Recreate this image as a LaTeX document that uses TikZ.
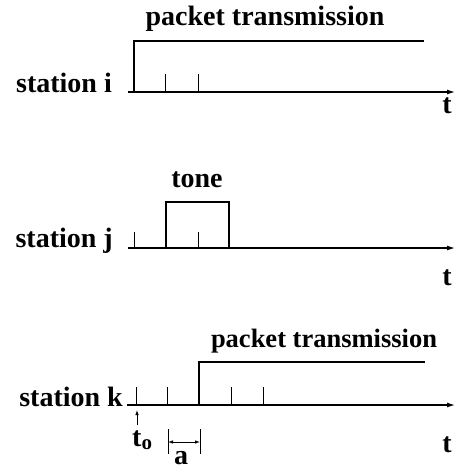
\documentclass[tikz,border=0pt]{standalone}
\usepackage{fontspec}
\setmainfont{Liberation Serif}
\usetikzlibrary{arrows.meta}
\begin{document}
\begin{tikzpicture}[x=1pt,y=-1pt,
  lbl/.style={font=\fontsize{28}{30}\selectfont\bfseries, inner sep=0pt},
  axis/.style={line width=1.2pt,-{Latex[length=8pt,width=5pt]}},
  sig/.style={line width=1.1pt},
  tick/.style={line width=0.9pt},
  small/.style={line width=0.8pt,-{Latex[length=5pt,width=3.5pt]}}]
\useasboundingbox (0,0) rectangle (455,469);

% ---- station i ----
\node[lbl, anchor=base east] (li) at (112,92) {station i};
\coordinate (i0) at (128,92);
\coordinate (i1) at (455,92);
\draw[axis] (i0) -- (i1);
\node[lbl, anchor=base] (ti) at (447,113) {t};
\foreach \x in {165,198} \draw[tick] (\x,92) -- (\x,74);
\coordinate (ia) at (134,92);
\coordinate (ib) at (134,41);
\coordinate (ic) at (424,41);
\draw[sig] (ia) -- (ib) -- (ic);
\node[lbl, anchor=base] (pi) at (265,25) {packet transmission};

% ---- station j ----
\node[lbl, anchor=base east] (lj) at (113,247) {station j};
\coordinate (j0) at (128,248);
\coordinate (j1) at (455,248);
\draw[axis] (j0) -- (j1);
\node[lbl, anchor=base] (tj) at (447,285) {t};
\foreach \x in {134,198} \draw[tick] (\x,248) -- (\x,232);
\coordinate (ja) at (166,248);
\coordinate (jb) at (166,202);
\coordinate (jc) at (229,202);
\coordinate (jd) at (229,248);
\draw[sig] (ja) -- (jb) -- (jc) -- (jd);
\node[lbl, anchor=base] (tone) at (197,187) {tone};

% ---- station k ----
\node[lbl, anchor=base east] (lk) at (123,406) {station k};
\coordinate (k0) at (127,405);
\coordinate (k1) at (455,405);
\draw[axis] (k0) -- (k1);
\node[lbl, anchor=base] (tk) at (447,452) {t};
\foreach \x in {136,167,231,263} \draw[tick] (\x,405) -- (\x,387);
\coordinate (ka) at (199,405);
\coordinate (kb) at (199,362);
\coordinate (kc) at (425,362);
\draw[sig] (ka) -- (kb) -- (kc);
\node[lbl, anchor=base, font=\fontsize{26.5}{30}\selectfont\bfseries] (pk) at (324,347) {packet transmission};

% start time marker
\coordinate (s0) at (137,425);
\coordinate (s1) at (137,410);
\draw[small] (s0) -- (s1);
\node[lbl, anchor=base west] (t0) at (132,446) {t\raisebox{-3pt}{\fontsize{21}{21}\selectfont o}};

% interval a
\coordinate (a0t) at (168,429);
\coordinate (a0b) at (168,454);
\coordinate (a1t) at (200,429);
\coordinate (a1b) at (200,454);
\draw[tick] (a0t) -- (a0b);
\draw[tick] (a1t) -- (a1b);
\coordinate (am0) at (168,442);
\coordinate (am1) at (200,442);
\draw[line width=0.8pt,{Latex[length=5pt,width=3.5pt]}-{Latex[length=5pt,width=3.5pt]}] (am0) -- (am1);
\node[lbl, anchor=base] (a) at (181,464) {a};
\end{tikzpicture}
\end{document}
